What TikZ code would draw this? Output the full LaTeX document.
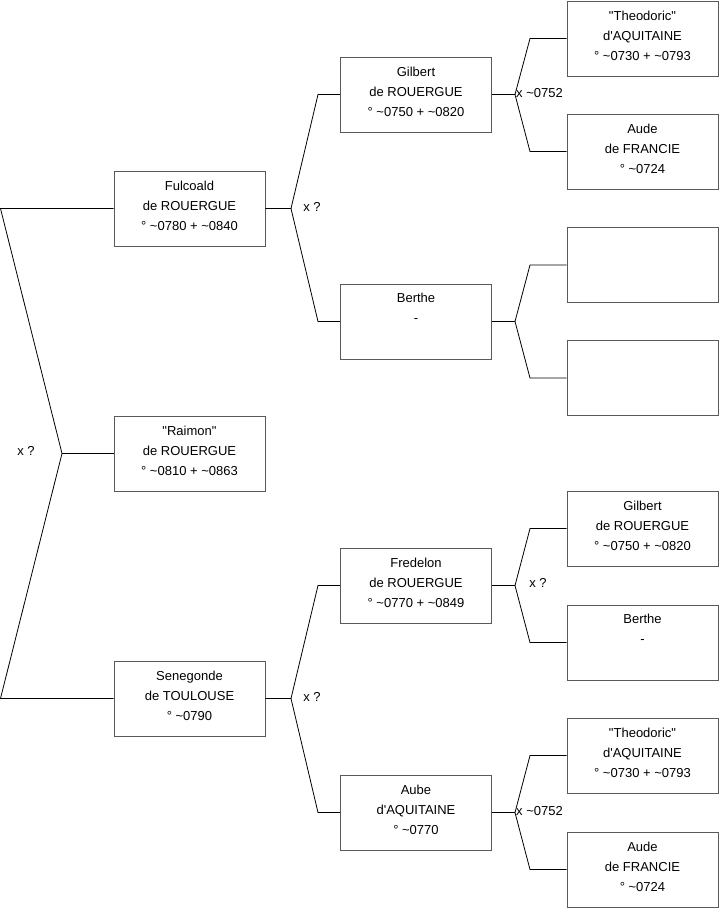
\documentclass[tikz,border=0pt]{standalone}
\usepackage{fontspec}
\setmainfont{Liberation Sans}
\newcommand{\dq}{\textquotedbl}
\newcommand{\sq}{\textquotesingle}
\begin{document}
\begin{tikzpicture}[x=1pt,y=-1pt,
  box/.style={draw=black!65,line width=0.8pt,rectangle,minimum width=151pt,minimum height=75pt,inner sep=0pt},
  txt/.style={anchor=north,align=center,inner sep=0pt,font=\fontsize{13}{20}\selectfont},
  lbl/.style={inner sep=0pt,font=\fontsize{13}{14}\selectfont},
  conn/.style={draw=black,line width=0.8pt}]
\useasboundingbox (0,0) rectangle (719,908);
% boxes: level 1
\node[box] (fulcoald) at (189.5,208.5) {};
\node[box] (raimon) at (189.5,453.5) {};
\node[box] (senegonde) at (189.5,698.5) {};
% level 2
\node[box] (gilbert) at (416,94.5) {};
\node[box] (berthe) at (416,321.5) {};
\node[box] (fredelon) at (416,585.5) {};
\node[box] (aube) at (416,812.5) {};
% level 3
\node[box] (theo1) at (642.5,38.5) {};
\node[box] (aude1) at (642.5,151.5) {};
\node[box] (emp1) at (642.5,265) {};
\node[box] (emp2) at (642.5,378) {};
\node[box] (gilbert2) at (642.5,528.5) {};
\node[box] (berthe2) at (642.5,642.5) {};
\node[box] (theo2) at (642.5,755.5) {};
\node[box] (aude2) at (642.5,869.5) {};
% texts
\node[txt] (t1) at ([yshift=-10pt]fulcoald.north) {Fulcoald\\de ROUERGUE\\° \textasciitilde0780 + \textasciitilde0840};
\node[txt] (t2) at ([yshift=-10pt]raimon.north) {\dq Raimon\dq\\de ROUERGUE\\° \textasciitilde0810 + \textasciitilde0863};
\node[txt] (t3) at ([yshift=-10pt]senegonde.north) {Senegonde\\de TOULOUSE\\° \textasciitilde0790};
\node[txt] (t4) at ([yshift=-10pt]gilbert.north) {Gilbert\\de ROUERGUE\\° \textasciitilde0750 + \textasciitilde0820};
\node[txt] (t5) at ([yshift=-9.5pt]berthe.north) {Berthe\\-};
\node[txt] (t6) at ([yshift=-10pt]fredelon.north) {Fredelon\\de ROUERGUE\\° \textasciitilde0770 + \textasciitilde0849};
\node[txt] (t7) at ([yshift=-10pt]aube.north) {Aube\\d\sq AQUITAINE\\° \textasciitilde0770};
\node[txt] (t8) at ([yshift=-10pt]theo1.north) {\dq Theodoric\dq\\d\sq AQUITAINE\\° \textasciitilde0730 + \textasciitilde0793};
\node[txt] (t9) at ([yshift=-10pt]aude1.north) {Aude\\de FRANCIE\\° \textasciitilde0724};
\node[txt] (t10) at ([yshift=-10pt]gilbert2.north) {Gilbert\\de ROUERGUE\\° \textasciitilde0750 + \textasciitilde0820};
\node[txt] (t11) at ([yshift=-9.5pt]berthe2.north) {Berthe\\-};
\node[txt] (t12) at ([yshift=-10pt]theo2.north) {\dq Theodoric\dq\\d\sq AQUITAINE\\° \textasciitilde0730 + \textasciitilde0793};
\node[txt] (t13) at ([yshift=-10pt]aude2.north) {Aude\\de FRANCIE\\° \textasciitilde0724};
% junction coordinates
\coordinate (a0) at (0.5,208.5);
\coordinate (aj) at (62,453.5);
\coordinate (a1) at (0.5,698.5);
% Fulcoald
\coordinate (bj) at (291,208.5);
\coordinate (bu) at (318,94.5);
\coordinate (bd) at (318,321.5);
% Senegonde
\coordinate (cj) at (291,698.5);
\coordinate (cu) at (318,585.5);
\coordinate (cd) at (318,812.5);
% Gilbert
\coordinate (dj) at (515,94.5);
\coordinate (du) at (530,38.5);
\coordinate (dd) at (530,151.5);
% Berthe
\coordinate (ej) at (515,321.5);
\coordinate (eu) at (530,265);
\coordinate (ed) at (530,378);
% Fredelon
\coordinate (fj) at (515,585.5);
\coordinate (fu) at (530,528.5);
\coordinate (fd) at (530,642.5);
% Aube
\coordinate (gj) at (515,812.5);
\coordinate (gu) at (530,755.5);
\coordinate (gd) at (530,869.5);
% connectors
\draw[conn] (fulcoald.west) -- (a0) -- (aj) -- (a1) -- (senegonde.west);
\draw[conn] (aj) -- (raimon.west);
\draw[conn] (fulcoald.east) -- (bj) -- (bu) -- (gilbert.west);
\draw[conn] (bj) -- (bd) -- (berthe.west);
\draw[conn] (senegonde.east) -- (cj) -- (cu) -- (fredelon.west);
\draw[conn] (cj) -- (cd) -- (aube.west);
\draw[conn] (gilbert.east) -- (dj) -- (du) -- (theo1.west);
\draw[conn] (dj) -- (dd) -- (aude1.west);
\draw[conn] (berthe.east) -- (ej) -- (eu) -- (emp1.west);
\draw[conn] (ej) -- (ed) -- (emp2.west);
\draw[conn] (fredelon.east) -- (fj) -- (fu) -- (gilbert2.west);
\draw[conn] (fj) -- (fd) -- (berthe2.west);
\draw[conn] (aube.east) -- (gj) -- (gu) -- (theo2.west);
\draw[conn] (gj) -- (gd) -- (aude2.west);
% labels
\node[lbl] (l1) at (26,451) {x ?};
\node[lbl] (l2) at (312,207) {x ?};
\node[lbl] (l3) at (312,697) {x ?};
\node[lbl,anchor=west] (l4) at (516,93) {x \textasciitilde0752};
\node[lbl,anchor=west] (l5) at (516,811) {x \textasciitilde0752};
\node[lbl] (l6) at (538,583) {x ?};
\end{tikzpicture}
\end{document}
